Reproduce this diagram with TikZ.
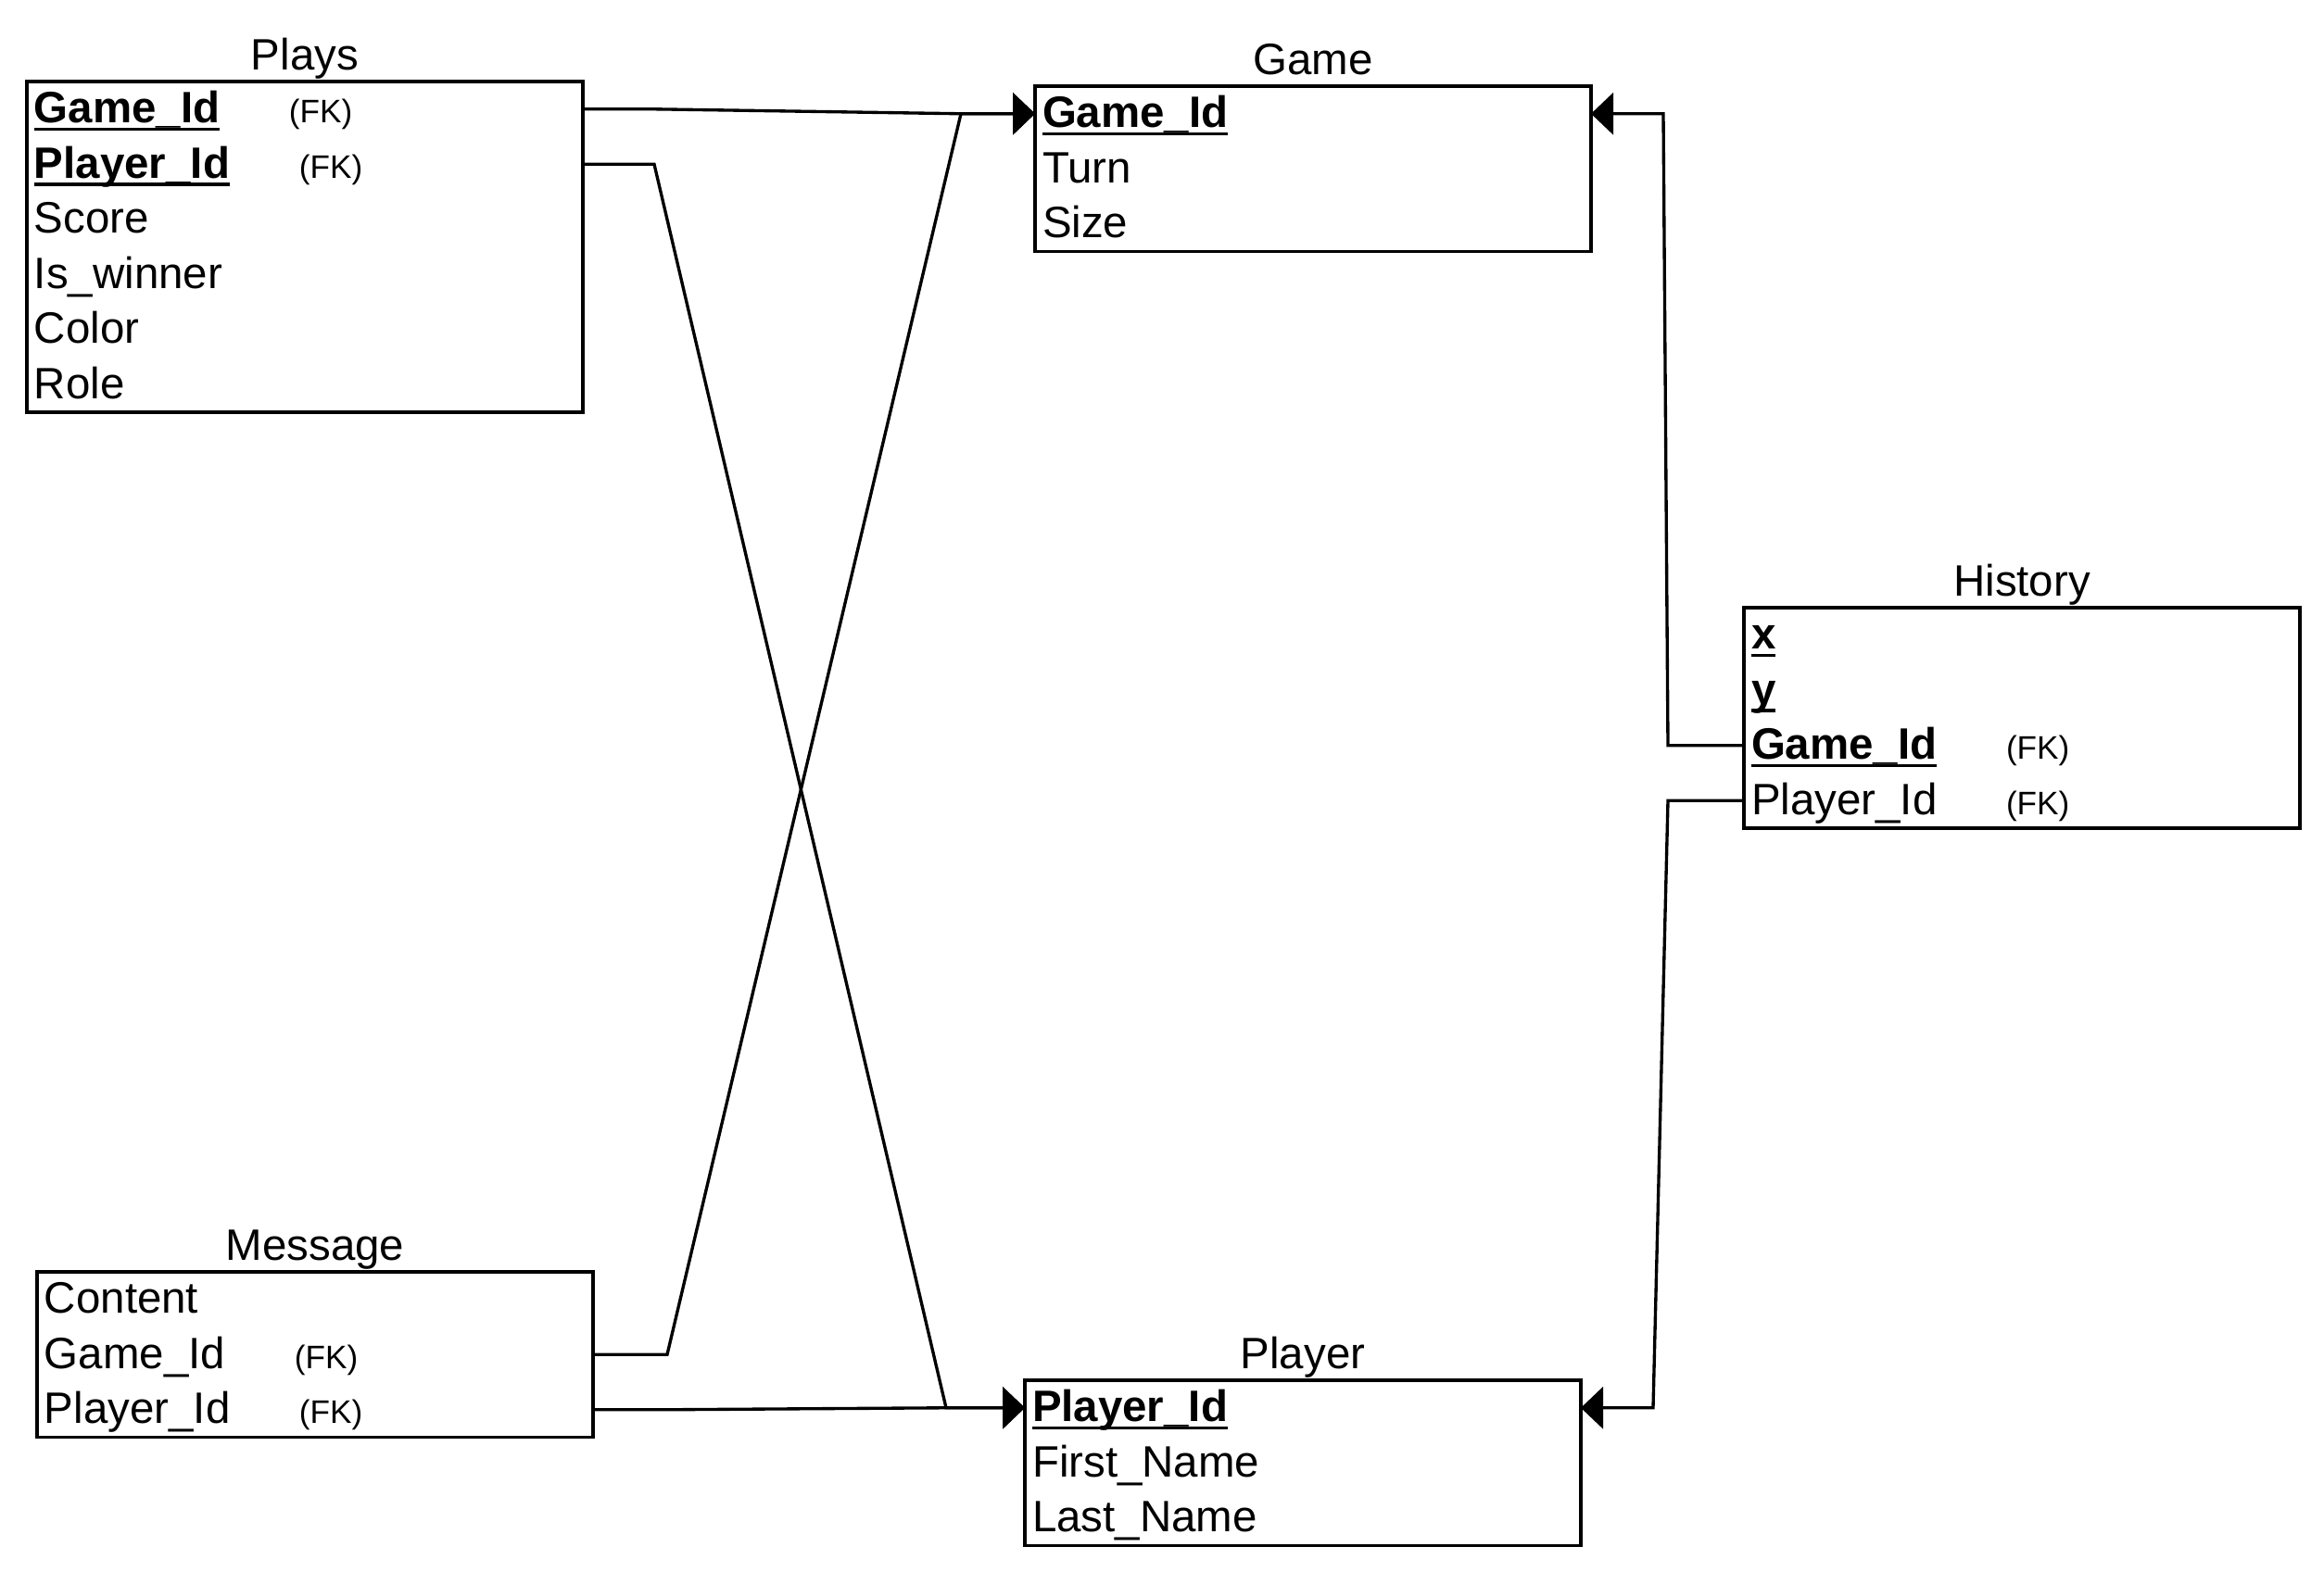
\documentclass[tikz,border=0pt]{standalone}
\usepackage{fontspec}
\setmainfont{Liberation Sans}
\usetikzlibrary{positioning,fit,arrows.meta}

\newcommand{\keycol}[1]{\setbox0\hbox{\textbf{#1}}\rlap{\rule[-0.85mm]{\wd0}{0.9pt}}\box0}
\newcommand{\fkcol}[2][2.75cm]{\makebox[#1][l]{#2}{\fontsize{10}{12}\selectfont(FK)}}

\begin{document}
\begin{tikzpicture}
[
    font=\fontsize{13.5}{16}\selectfont,
    field/.style={inner xsep=0.08cm, inner ysep=0pt, outer sep=0pt, text width=5.84cm, text height=4.45mm, text depth=1.5mm, align=left},
    entity/.style={draw, line width=1.1pt, inner sep=0pt},
    entitytitle/.style={anchor=base, yshift=1.1mm},
    fklink/.style={line width=0.95pt, -{Triangle[length=2.4mm, width=4.5mm]}}
]
    \useasboundingbox (0,0) rectangle (25.08,-16.96);

    % Plays
    \node [field, anchor=north west] (plays-1) at (0.29,-0.88) {\fkcol{\keycol{Game\_Id}}};
    \node [field, below=0pt of plays-1] (plays-2) {\fkcol[2.86cm]{\keycol{Player\_Id}}};
    \node [field, below=0pt of plays-2] (plays-3) {Score};
    \node [field, below=0pt of plays-3] (plays-4) {Is\_winner};
    \node [field, below=0pt of plays-4] (plays-5) {Color};
    \node [field, below=0pt of plays-5] (plays-6) {Role};
    \node [entity, fit=(plays-1)(plays-6)] (plays) {};
    \node [entitytitle] at (plays.north) {Plays};

    % Game
    \node [field, anchor=north west] (game-1) at (11.17,-0.93) {\keycol{Game\_Id}};
    \node [field, below=0pt of game-1] (game-2) {Turn};
    \node [field, below=0pt of game-2] (game-3) {Size};
    \node [entity, fit=(game-1)(game-3)] (game) {};
    \node [entitytitle] at (game.north) {Game};

    % History
    \node [field, anchor=north west] (history-1) at (18.82,-6.56) {\keycol{x}};
    \node [field, below=0pt of history-1] (history-2) {\keycol{y}};
    \node [field, below=0pt of history-2] (history-3) {\fkcol{\keycol{Game\_Id}}};
    \node [field, below=0pt of history-3] (history-4) {\fkcol{Player\_Id}};
    \node [entity, fit=(history-1)(history-4)] (history) {};
    \node [entitytitle] at (history.north) {History};

    % Message
    \node [field, anchor=north west] (message-1) at (0.40,-13.73) {Content};
    \node [field, below=0pt of message-1] (message-2) {\fkcol[2.70cm]{Game\_Id}};
    \node [field, below=0pt of message-2] (message-3) {\fkcol{Player\_Id}};
    \node [entity, fit=(message-1)(message-3)] (message) {};
    \node [entitytitle] at (message.north) {Message};

    % Player
    \node [field, anchor=north west] (player-1) at (11.06,-14.90) {\keycol{Player\_Id}};
    \node [field, below=0pt of player-1] (player-2) {First\_Name};
    \node [field, below=0pt of player-2] (player-3) {Last\_Name};
    \node [entity, fit=(player-1)(player-3)] (player) {};
    \node [entitytitle] at (player.north) {Player};

    % foreign keys
    \coordinate (gamejoin) at ([xshift=-0.80cm]game-1.west);
    \coordinate (playerjoin) at ([xshift=-0.85cm]player-1.west);

    \draw [fklink] (plays-1.east) -- ++(0.75,0) -- (gamejoin) -- (game-1.west);
    \draw [fklink] (plays-2.east) -- ++(0.77,0) -- (playerjoin) -- (player-1.west);
    \draw [fklink] (message-2.east) -- ++(0.80,0) -- (gamejoin) -- (game-1.west);
    \draw [fklink] (message-3.east) -- ++(0.80,0) -- (playerjoin) -- (player-1.west);
    \draw [fklink] (history-3.west) -- ++(-0.82,0) -- ([xshift=0.78cm]game-1.east) -- (game-1.east);
    \draw [fklink] (history-4.west) -- ++(-0.82,0) -- ([xshift=0.78cm]player-1.east) -- (player-1.east);
\end{tikzpicture}
\end{document}
